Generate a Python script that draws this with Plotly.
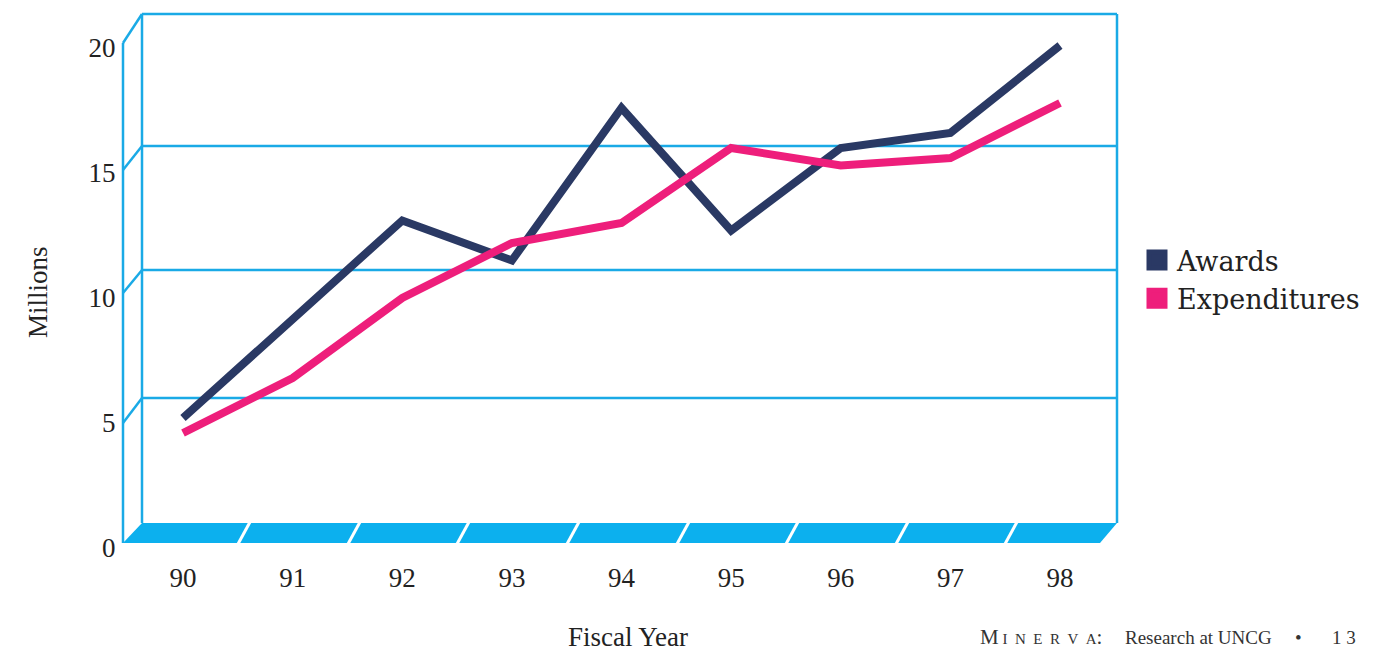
import plotly.graph_objects as go

# ---- data ----
years = [90, 91, 92, 93, 94, 95, 96, 97, 98]
year_labels = ["90", "91", "92", "93", "94", "95", "96", "97", "98"]
awards = [5.2, 9.2, 13.1, 11.5, 17.6, 12.7, 16.0, 16.6, 20.1]
expenditures = [4.6, 6.8, 10.0, 12.2, 13.0, 16.0, 15.3, 15.6, 17.8]
y_ticks = [0, 5, 10, 15, 20]

NAVY = "#2a3964"
PINK = "#ee1e7b"
CYAN = "#1aaae6"
FLOOR = "#0cb0ee"
SERIF = "Liberation Serif, Times New Roman, serif"
SERIF2 = "DejaVu Serif, serif"

OFF = 8                      # page body margin of the browser
W, H = 1398 - OFF, 651 - OFF
L, R, T, B = 123, 1117, 14, 550  # plot area in reference-page pixels


def px(x):
    return (x - L) / (R - L)


def py(y):
    return (B - y) / (B - T)


fig = go.Figure()
fig.add_trace(go.Scatter(x=years, y=awards, mode="lines", name="Awards",
                         line=dict(color=NAVY, width=8), showlegend=False))
fig.add_trace(go.Scatter(x=years, y=expenditures, mode="lines", name="Expenditures",
                         line=dict(color=PINK, width=8), showlegend=False))
# legend entries (square swatches)
fig.add_trace(go.Scatter(x=[None], y=[None], mode="markers", name="Awards",
                         marker=dict(symbol="square", size=16, color=NAVY,
                                     line=dict(color=NAVY, width=5))))
fig.add_trace(go.Scatter(x=[None], y=[None], mode="markers", name="Expenditures",
                         marker=dict(symbol="square", size=16, color=PINK,
                                     line=dict(color=PINK, width=5))))

shapes = []


def seg(x0, y0, x1, y1, color=CYAN, width=2.5):
    shapes.append(dict(type="line", xref="paper", yref="paper",
                       x0=px(x0), y0=py(y0), x1=px(x1), y1=py(y1),
                       line=dict(color=color, width=width), layer="below"))


# floor
shapes.append(dict(type="path", xref="paper", yref="paper",
                   path="M {},{} L {},{} L {},{} L {},{} Z".format(
                       px(123), py(543), px(142), py(523), px(1117), py(523), px(1100), py(543)),
                   fillcolor=FLOOR, line=dict(width=0), layer="below"))
for fx in [238, 348, 457, 567, 677, 786, 896, 1005]:
    seg(fx, 544, fx + 12, 522, color="white", width=3)

# back wall
seg(142, 14, 1117, 14)
seg(142, 14, 142, 523)
seg(1117, 14, 1117, 523)
for gy in [146, 270, 398]:
    seg(142, gy, 1117, gy)
# left wall
seg(123, 43, 123, 543)
seg(123, 43, 142, 14)
for fy, by in [(170, 146), (293, 270), (423, 398)]:
    seg(123, fy, 142, by)

# x mapping: 90 -> 183 px, 98 -> 1060 px
xs = (1060 - 183) / 8.0
x_range = [90 - (183 - L) / xs, 98 + (R - 1060) / xs]
# y mapping: 0 -> 548 px, 25 px per unit
y_range = [-(B - 548) / 25.0, (548 - T) / 25.0]

small = "font-size:15px"
minerva = ("M<span style='" + small + "'>&nbsp;I&nbsp;&nbsp;N&nbsp;&nbsp;E&nbsp;&nbsp;"
           "R&nbsp;&nbsp;V&nbsp;&nbsp;A</span>:")
annotations = [
    dict(text="Millions", xref="paper", yref="paper", x=px(38), y=py(292),
         showarrow=False, textangle=-90, font=dict(family=SERIF, size=27, color="#222"),
         xanchor="center", yanchor="middle"),
    dict(text="Fiscal Year", xref="paper", yref="paper", x=px(628), y=py(637),
         showarrow=False, font=dict(family=SERIF, size=27, color="#222"),
         xanchor="center", yanchor="middle"),
    dict(text=minerva, xref="paper", yref="paper", x=px(978), y=py(637), showarrow=False,
         font=dict(family=SERIF, size=21, color="#333"), xanchor="left", yanchor="middle"),
    dict(text="Research at UNCG", xref="paper", yref="paper", x=px(1123), y=py(637),
         showarrow=False, font=dict(family=SERIF, size=19, color="#333"),
         xanchor="left", yanchor="middle"),
    dict(text="•", xref="paper", yref="paper", x=px(1298), y=py(637),
         showarrow=False, font=dict(family=SERIF, size=19, color="#333"),
         xanchor="center", yanchor="middle"),
    dict(text="1&nbsp;3", xref="paper", yref="paper", x=px(1330), y=py(637),
         showarrow=False, font=dict(family=SERIF, size=19, color="#333"),
         xanchor="left", yanchor="middle"),
]

fig.update_layout(
    width=W, height=H, autosize=False,
    margin=dict(l=L - OFF, r=(W + OFF) - R, t=T - OFF, b=(H + OFF) - B, pad=0),
    paper_bgcolor="white", plot_bgcolor="rgba(0,0,0,0)",
    shapes=shapes, annotations=annotations,
    showlegend=True,
    legend=dict(x=px(1137), y=py(236), xanchor="left", yanchor="top",
                font=dict(family=SERIF2, size=27, color="#222"),
                bgcolor="rgba(0,0,0,0)", tracegroupgap=0),
    xaxis=dict(range=x_range, tickmode="array", tickvals=years, ticktext=year_labels,
               showgrid=False, zeroline=False, showline=False,
               ticks="outside", ticklen=4, tickcolor="rgba(0,0,0,0)",
               tickfont=dict(family=SERIF, size=27, color="#222"), automargin=False),
    yaxis=dict(range=y_range, tickmode="array", tickvals=y_ticks,
               ticktext=[str(v) for v in y_ticks],
               showgrid=False, zeroline=False, showline=False,
               ticks="outside", ticklen=1, tickcolor="rgba(0,0,0,0)",
               tickfont=dict(family=SERIF, size=27, color="#222"),
               automargin=False),
)

fig.write_html("out.html")
